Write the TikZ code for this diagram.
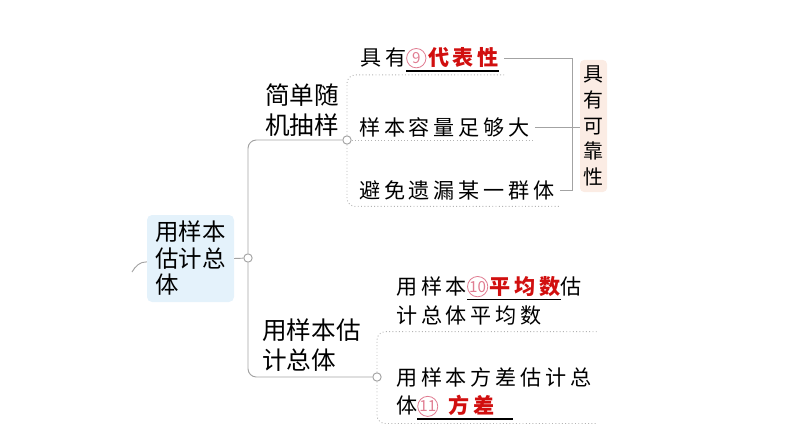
\documentclass[tikz,border=0pt]{standalone}
\usepackage{fontspec}
\setmainfont{Noto Sans CJK SC}
\definecolor{linegray}{HTML}{A3A3A3}
\definecolor{dotgray}{HTML}{B4B4B4}
\definecolor{rootblue}{HTML}{E4F2FB}
\definecolor{tagpeach}{HTML}{FBECE4}
\definecolor{numpink}{HTML}{E07D92}
\definecolor{ansred}{HTML}{D10F0F}
\newcommand{\qnum}[1]{\tikz[baseline={([yshift=-6.5pt]q.center)}]\node[circle,draw=numpink,text=numpink,line width=0.7pt,
    minimum size=16.5pt,inner sep=0pt,font={\normalfont\fontsize{13pt}{13pt}\selectfont}] (q) {#1};\hspace{1.5pt}}
\newcommand{\ans}[1]{\textcolor{ansred}{\bfseries #1}}
\newcommand{\fillin}[2][0pt]{\setbox0\hbox{#2\hspace{#1}}\rlap{\smash{\rule[-5pt]{\wd0}{1.3pt}}}\box0}
\begin{document}
\begin{tikzpicture}[x=0.03cm,y=-0.03cm,
    link/.style = {draw=linegray,line width=0.8pt,rounded corners=0.25cm},
    dotlink/.style = {draw=dotgray,line width=0.8pt,dotted,rounded corners=0.25cm},
    knot/.style = {circle,draw=linegray,fill=white,line width=0.8pt,minimum size=0.25cm,inner sep=0pt},
    branch/.style = {anchor=west,inner sep=0pt,align=left,font={\fontsize{21pt}{26pt}\selectfont}},
    leaf/.style = {anchor=west,inner xsep=0.15cm,inner ysep=5.5pt,align=left,
                   font={\fontsize{18pt}{24.7pt}\selectfont\addfontfeatures{LetterSpace=18}}}]
\useasboundingbox (0,0) rectangle (794,447);

% root
\node[fill=rootblue,rounded corners=0.15cm,minimum width=2.61cm,minimum height=2.61cm,
      align=left,font={\fontsize{20pt}{22.6pt}\selectfont}] (root) at (190.5,258.5) {用样本\\估计总\\体};
\coordinate (stub) at (132,272);
\draw[link] ([yshift=-0.1cm]root.west) to[out=180,in=60] (stub);

\node[knot] (c0) at (248,258) {};
\node[knot] (c1) at (347,140) {};
\node[knot] (c2) at (377,377) {};
\draw[link] (root.east) -- (c0);
\draw[link] (c0.north) |- (c1.west);
\draw[link] (c0.south) |- (c2.west);

% branches
\node[branch] (simple) at (265,110) {简单随\\机抽样};
\node[branch] (estimate) at (262,345) {用样本估\\计总体};

% leaves
\node[leaf] (rep) at (355,58) {具有\fillin{\qnum{9}\ans{代表性}}};
\node[leaf] (size) at (354,127) {样本容量足够大};
\node[leaf] (avoid) at (354,190) {避免遗漏某一群体};
\node[leaf] (mean) at (391,300.5) {用样本\fillin{\qnum{10}\ans{平均数}}估\\计总体平均数};
\node[leaf] (var) at (391,392) {用样本方差估计总\\体\fillin[0.9em]{\qnum{11} \ans{方差}}};

\draw[dotlink] (c1.north) |- (rep.south east);
\draw[dotlink] (c1.east) -- (c1.east -| size.east);
\draw[dotlink] (c1.south) |- (avoid.south east);
\draw[dotlink] (c2.north) |- (mean.south -| var.east);
\draw[dotlink] (c2.south) |- (var.south east);

% summary tag
\node[fill=tagpeach,rounded corners=0.12cm,minimum width=0.81cm,minimum height=3.96cm,inner sep=0pt,
      align=center,font={\fontsize{17pt}{22pt}\selectfont}] (reliable) at (593.5,126) {具\\有\\可\\靠\\性};
\coordinate (bar) at (572,126);
\draw[link,rounded corners=0pt] (rep.east) -| (bar) |- (avoid.east);
\draw[link] (size.east) -- (size.east -| reliable.west);
\end{tikzpicture}
\end{document}
